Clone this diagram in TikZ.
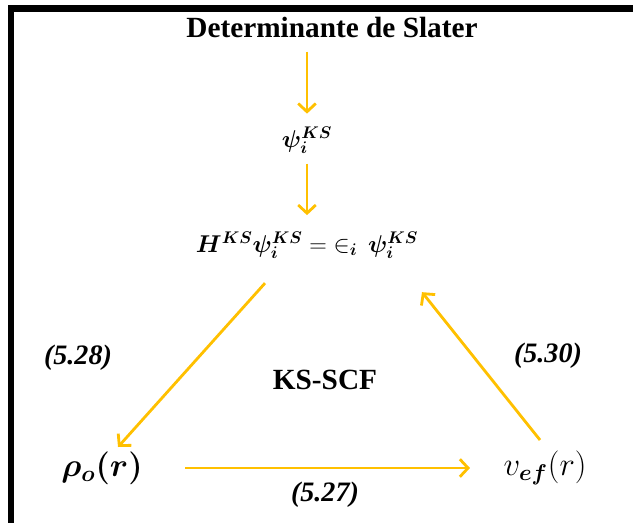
\documentclass[tikz,border=0pt]{standalone}
\usepackage{fontspec}
\setmainfont{Liberation Serif}
\usepackage{amsmath,bm}
\usetikzlibrary{arrows.meta, positioning}
\definecolor{ouro}{RGB}{255,192,0}
\tikzstyle{arrow} = [line width=2.4pt, draw=ouro, -{Straight Barb[length=7pt, width=15pt]}]
\tikzstyle{titulo} = [inner sep=0pt, font=\bfseries\fontsize{25}{30}\selectfont]
\tikzstyle{eqnode} = [inner sep=0pt, font=\fontsize{22}{26}\selectfont]
\tikzstyle{eqnode_G} = [eqnode, scale=1.35, transform shape]
\tikzstyle{rotulo} = [inner sep=0pt, font=\bfseries\itshape\fontsize{24}{28}\selectfont]

\begin{document}
\begin{tikzpicture}[x=0.03cm, y=-0.03cm, node distance=3.2cm]
			\useasboundingbox (0,0) rectangle (633,522);
			% Moldura
			\draw[line width=5.5pt] (11,530) -- (11,8.5) -- (640,8.5);

			% Nodes do ciclo
			\node (Slater) [titulo] at (332,27) {Determinante de Slater};
			\node (psi) [eqnode, below of=Slater, xshift=-0.75cm, yshift=-0.2cm] {$\bm{\psi_i^{KS}}$};
			\node (HKS) [eqnode, below of=psi, yshift=0.05cm] {$\bm{H^{KS}\psi_i^{KS}} = {\in_{\bm{i}}}\;\, \bm{\psi_i^{KS}}$};
			\node (rho) [eqnode_G] at (102,468) {$\bm{\rho_o(r)}$};
			\node (vef) [eqnode_G] at (545,468) {$v_{\bm{ef}}(r)$};
			\node (KSSCF) [titulo] at (325,380) {KS-SCF};

			% Rotulos
			\node (L_28) [rotulo] at (78,358) {(5.28)};
			\node (L_30) [rotulo] at (548,356) {(5.30)};
			\node (L_27) [rotulo] at (325,495) {(5.27)};

			% Connections
			\draw [arrow, shorten <=12pt, shorten >=11pt] (Slater.south -| psi) -- (psi.north);
			\draw [arrow, shorten <=8pt, shorten >=14pt] (psi.south) -- (psi.south |- HKS.north);
			\draw [arrow] ([xshift=-1.26cm, yshift=-0.72cm]HKS.south) -- ([xshift=0.48cm, yshift=0.63cm]rho.center);
			\draw [arrow] ([xshift=-0.15cm, yshift=0.84cm]vef.center) -- ([xshift=3.45cm, yshift=-0.99cm]HKS.south);
			\draw [arrow, shorten <=2.49cm, shorten >=2.25cm] (rho.center) -- (vef.center);

		\end{tikzpicture}
\end{document}
